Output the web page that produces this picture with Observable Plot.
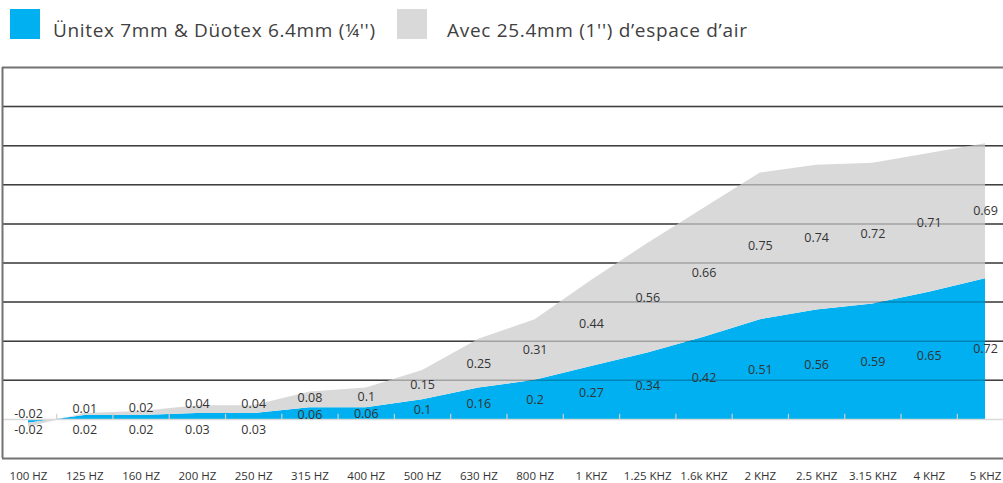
<!DOCTYPE html>
<html>
<head>
<meta charset="utf-8">
<script src="https://cdn.jsdelivr.net/npm/d3@7"></script>
<script src="https://cdn.jsdelivr.net/npm/@observablehq/plot@0.6"></script>
<style>
  html, body { margin: 0; padding: 0; background: #fff; }
  body { font-family: "Open Sans", sans-serif; width: 1003px; overflow: hidden; }
  #legend, #chart { display: block; height: auto; line-height: 0; }
  svg { display: block; }
</style>
</head>
<body>
<div id="legend"></div>
<div id="chart"></div>
<script>
// ---- data ----
const categories = ["100 HZ","125 HZ","160 HZ","200 HZ","250 HZ","315 HZ","400 HZ","500 HZ","630 HZ","800 HZ","1 KHZ","1.25 KHZ","1.6k KHZ","2 KHZ","2.5 KHZ","3.15 KHZ","4 KHZ","5 KHZ"];
const unitex = [-0.02,0.02,0.02,0.03,0.03,0.06,0.06,0.1,0.16,0.2,0.27,0.34,0.42,0.51,0.56,0.59,0.65,0.72];
const airGap = [-0.02,0.01,0.02,0.04,0.04,0.08,0.1,0.15,0.25,0.31,0.44,0.56,0.66,0.75,0.74,0.72,0.71,0.69];
const gridValues = [0.2,0.4,0.6,0.8,1.0,1.2,1.4,1.6];
const seriesNames = ["Ünitex 7mm & Düotex 6.4mm (¼'')", "Avec 25.4mm (1'') d’espace d’air"];
const seriesColors = ["#00b0f0", "#d9d9d9"];

// ---- table ----
const minGap = 0.085;
const rows = categories.map((c, i) => {
  const b = unitex[i], g = airGap[i];
  let blueY, grayY;
  if (b < 0.05) {
    blueY = -0.055;
    grayY = Math.max(b + g / 2, 0) + 0.03;
  } else {
    blueY = b / 2;
    grayY = b + g / 2;
    const gap = grayY - blueY;
    if (gap < minGap) {
      const push = (minGap - gap) / 2;
      blueY -= push; grayY += push;
    }
  }
  return { i, cat: c, blue: b, gray: g, top: b + g, blueLabelY: blueY, grayLabelY: grayY };
});

// ---- legend ----
const leg = d3.select("#legend").append("svg").attr("width", 1003).attr("height", 62);
const legItems = [{x: 10, tx: 53, w: 322}, {x: 397, tx: 447, w: 300}];
legItems.forEach((it, k) => {
  leg.append("rect").attr("x", it.x).attr("y", 9).attr("width", 30).attr("height", 30).attr("fill", seriesColors[k]);
  leg.append("text").attr("x", it.tx).attr("y", 37)
    .attr("font-family", "'Open Sans', sans-serif").attr("font-size", 19).attr("fill", "#404040")
    .attr("textLength", it.w).attr("lengthAdjust", "spacing")
    .text(seriesNames[k]);
});

// ---- chart ----
const s = (985 - 28) / 17;
const xMin = -26 / s, xMax = 17 + 18 / s;
const yMin = -0.2, yMax = 1.8;
const mids = d3.range(17).map(i => i + 0.5);

const chart = Plot.plot({
  width: 1003,
  height: 421,
  marginTop: 5,
  marginBottom: 25,
  marginLeft: 2,
  marginRight: 0,
  style: { fontFamily: "'Open Sans', sans-serif", background: "#fff" },
  x: { type: "linear", domain: [xMin, xMax] },
  y: { domain: [yMin, yMax], axis: null },
  marks: [
    Plot.ruleY(gridValues, { stroke: "#555", strokeWidth: 1.5 }),
    Plot.areaY(rows, { x: "i", y1: 0, y2: "blue", fill: seriesColors[0] }),
    Plot.areaY(rows, { x: "i", y1: "blue", y2: "top", fill: seriesColors[1] }),
    Plot.ruleY(gridValues, { stroke: "#000", strokeOpacity: 0.25, strokeWidth: 1.5 }),
    Plot.ruleY([0], { stroke: "#d9d9d9", strokeWidth: 1.5 }),
    Plot.ruleX(mids, { y1: 0, y2: 0.026, stroke: "#d0d0d0", strokeWidth: 1.2 }),
    Plot.ruleY([yMin, yMax], { stroke: "#737373", strokeWidth: 2 }),
    Plot.ruleX([xMin], { y1: yMin, y2: yMax, stroke: "#737373", strokeWidth: 2 }),
    Plot.text(rows, { x: "i", y: "blueLabelY", text: d => String(d.blue), fontSize: 12.5, fill: "#333" }),
    Plot.text(rows, { x: "i", y: "grayLabelY", text: d => String(d.gray), fontSize: 12.5, fill: "#333" }),
    Plot.axisX(d3.range(categories.length), {
      tickFormat: i => categories[i], tickSize: 0, tickPadding: 13.5,
      fontSize: 11.5, fill: "#333", label: null
    })
  ]
});
document.getElementById("chart").appendChild(chart);
</script>
</body>
</html>
